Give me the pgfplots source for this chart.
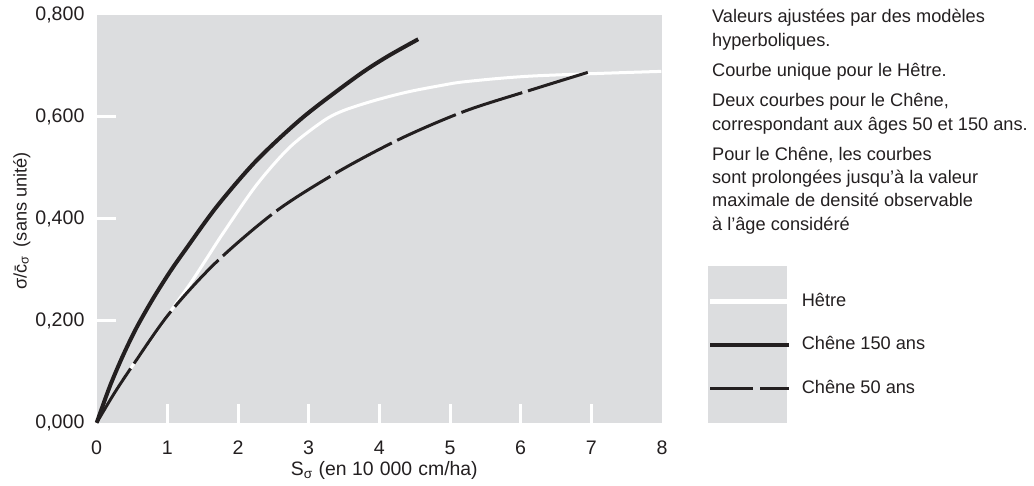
\documentclass[border=0pt]{standalone}
\usepackage{pgfplots}
\pgfplotsset{compat=1.18}
\usepackage{fontspec}
\setmainfont{Liberation Sans}
\definecolor{bggray}{RGB}{220,221,223}
\definecolor{ink}{RGB}{35,31,32}
\begin{document}
\begin{tikzpicture}[font=\fontsize{9.1}{11.65}\selectfont, text=ink]
\begin{axis}[
  scale only axis, width=282.65pt, height=204pt,
  xmin=0, xmax=8, ymin=0, ymax=0.8,
  clip=false,
  axis line style={draw=none},
  axis background/.style={fill=bggray},
  xtick={1,...,7}, ytick={0.2,0.4,0.6},
  extra x ticks={0,8}, extra y ticks={0,0.8},
  extra x tick style={major tick length=0pt},
  extra y tick style={major tick length=0pt},
  xtick pos=bottom, ytick pos=left, tick align=inside,
  major tick length=9.5pt,
  tick style={white, line width=1.5pt},
  /pgf/number format/assume math mode=true,
  ticklabel style={font=\fontsize{9.8}{11.65}\selectfont},
  yticklabel style={xshift=-2.6pt, /pgf/number format/.cd, fixed, fixed zerofill, precision=3, use comma},
  xticklabel style={yshift=-5.6pt},
  xlabel={S\textsubscript{σ} (en 10\hspace{0.32em}000\hspace{0.32em}cm/ha)},
  ylabel={σ/\={c}\textsubscript{σ}\hspace{0.45em}(sans unité)},
  xlabel style={at={(rel axis cs:0.5,0)}, anchor=base, yshift=-26.2pt, xshift=2.5pt,
    font=\fontsize{9.7}{11.65}\selectfont},
  ylabel style={at={(rel axis cs:-0.1238,0.495)}, anchor=base},
  legend style={at={(rel axis cs:1.0814,0.319)}, anchor=north west, draw=none, fill=none,
    inner sep=0pt, outer sep=0pt, row sep=12.6pt, column sep=5pt,
    nodes={inner sep=0pt, text height=7pt, text depth=2pt}},
  legend cell align=left,
]
\addplot[white, line width=1.5pt, smooth,
  legend image code/.code={\draw[white, line width=2.4pt] (0pt,0pt) -- (39.5pt,0pt);}]
  coordinates {(0,0) (0.25,0.058) (0.518,0.114) (1.037,0.217) (1.32,0.272) (1.556,0.322)
  (1.79,0.372) (2.26,0.466) (2.73,0.540) (3.21,0.592) (3.49,0.612) (3.91,0.631)
  (4.38,0.648) (4.86,0.661) (5.23,0.669) (6.18,0.680) (7.99,0.689)};
\addlegendentry{Hêtre}
\addplot[ink, line width=2pt, smooth,
  legend image code/.code={\draw[ink, line width=2pt] (0pt,0pt) -- (39.5pt,0pt);}]
  coordinates {(0,0) (0.188,0.072) (0.376,0.133) (0.566,0.187) (0.80,0.244) (1.037,0.296)
  (1.249,0.338) (1.70,0.424) (2.26,0.514) (2.92,0.599) (3.68,0.679) (4.1,0.717) (4.55,0.752)};
\addlegendentry{Chêne 150 ans}
\addplot[ink, line width=1.5pt, smooth, dash pattern=on 32pt off 3pt,
  legend image code/.code={\draw[ink, line width=1.5pt, dash pattern=on 21.5pt off 3.5pt] (0pt,0pt) -- (39.5pt,0pt);}]
  coordinates {(0,0) (0.25,0.058) (0.518,0.114) (1.037,0.216) (1.70,0.316) (2.55,0.416)
  (3.44,0.494) (4.33,0.559) (5.23,0.612) (6.18,0.654) (6.95,0.687)};
\addlegendentry{Chêne 50 ans}
\fill[bggray] (rel axis cs:1.0814,0) rectangle (rel axis cs:1.2211,0.3848);
\node[anchor=north west, inner sep=0pt, align=left] at (rel axis cs:1.088,1.014)
  {Valeurs ajustées par des modèles\\ hyperboliques.\\[3.5pt]
   Courbe unique pour le Hêtre.\\[3.5pt]
   Deux courbes pour le Chêne,\\ correspondant aux âges 50 et 150 ans.\\[3.5pt]
   Pour le Chêne, les courbes\\ sont prolongées jusqu’à la valeur\\
   maximale de densité observable\\ à l’âge considéré};
\end{axis}
\path (current axis.south west) ++(-48.35pt,-28.5pt) rectangle ++(517pt,239.5pt);
\end{tikzpicture}
\end{document}
